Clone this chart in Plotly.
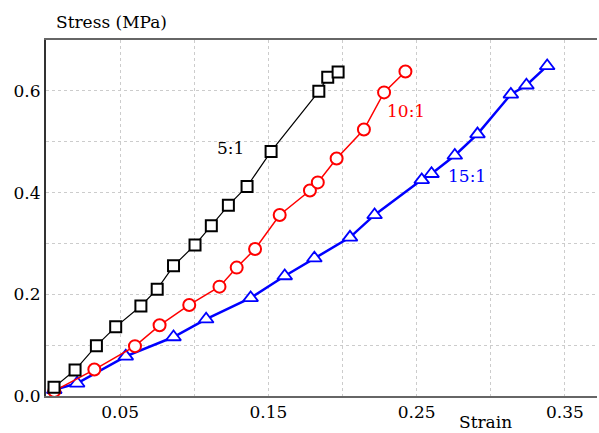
import plotly.graph_objects as go

# 5:1 series
x_5 = [0.0054, 0.0196, 0.034, 0.047, 0.064, 0.075, 0.086, 0.1005, 0.1115, 0.123, 0.1356, 0.1518, 0.184, 0.190, 0.197]
y_5 = [0.017, 0.051, 0.099, 0.136, 0.177, 0.210, 0.256, 0.297, 0.335, 0.375, 0.412, 0.481, 0.599, 0.627, 0.637]
# 10:1 series
x_10 = [0.0056, 0.0326, 0.060, 0.0766, 0.0966, 0.117, 0.1286, 0.141, 0.1576, 0.178, 0.1833, 0.196, 0.2144, 0.228, 0.2424]
y_10 = [0.010, 0.052, 0.098, 0.139, 0.179, 0.215, 0.2525, 0.289, 0.356, 0.404, 0.420, 0.467, 0.524, 0.597, 0.638]
# 15:1 series
x_15 = [0.0056, 0.021, 0.0538, 0.086, 0.108, 0.138, 0.161, 0.181, 0.205, 0.2216, 0.2534, 0.260, 0.2757, 0.291, 0.3135, 0.324, 0.338]
y_15 = [0.012, 0.025, 0.078, 0.116, 0.151, 0.193, 0.236, 0.271, 0.312, 0.356, 0.425, 0.437, 0.473, 0.515, 0.593, 0.611, 0.649]

x_ticks = [0.05, 0.15, 0.25, 0.35]
x_ticklabels = ["0.05", "0.15", "0.25", "0.35"]
y_ticks = [0.0, 0.2, 0.4, 0.6]
y_ticklabels = ["0.0", "0.2", "0.4", "0.6"]

FONT = "DejaVu Serif"

fig = go.Figure()
fig.add_trace(go.Scatter(x=x_15, y=y_15, mode="lines+markers",
                         line=dict(color="#0000ff", width=2.5),
                         marker=dict(symbol="triangle-up", size=13, color="white",
                                     line=dict(color="#0000ff", width=1.8))))
fig.add_trace(go.Scatter(x=x_10, y=y_10, mode="lines+markers",
                         line=dict(color="#ff0000", width=1.5),
                         marker=dict(symbol="circle", size=12, color="white",
                                     line=dict(color="#ff0000", width=2))))
fig.add_trace(go.Scatter(x=x_5, y=y_5, mode="lines+markers",
                         line=dict(color="#000000", width=1.2),
                         marker=dict(symbol="square", size=11, color="white",
                                     line=dict(color="#000000", width=2))))

fig.add_annotation(x=0.1245, y=0.487, text="5:1", showarrow=False,
                   font=dict(family=FONT, size=17, color="black"))
fig.add_annotation(x=0.2425, y=0.561, text="10:1", showarrow=False,
                   font=dict(family=FONT, size=17, color="#ff0000"))
fig.add_annotation(x=0.284, y=0.433, text="15:1", showarrow=False, bgcolor="white",
                   font=dict(family=FONT, size=17, color="#0000ff"))

fig.add_annotation(xref="paper", yref="paper", x=0.0145, y=1.05, xanchor="left", yanchor="middle",
                   text="Stress (MPa)", showarrow=False,
                   font=dict(family=FONT, size=17, color="black"))
fig.add_annotation(xref="paper", yref="paper", x=0.797, y=-0.072, xanchor="center", yanchor="middle",
                   text="Strain", showarrow=False,
                   font=dict(family=FONT, size=17, color="black"))

grid = dict(showgrid=True, gridcolor="#cccccc", gridwidth=1, griddash="dot")
fig.update_xaxes(range=[0, 0.3716], tickmode="array", tickvals=x_ticks, ticktext=x_ticklabels,
                 showline=True, linecolor="#666666", linewidth=2, mirror=True,
                 ticks="", zeroline=False,
                 tickfont=dict(family=FONT, size=17, color="black"),
                 minor=dict(tick0=0, dtick=0.05, **grid), **grid)
fig.update_yaxes(range=[0, 0.70], tickmode="array", tickvals=y_ticks, ticktext=y_ticklabels,
                 showline=True, linecolor="#333333", linewidth=2, mirror=False,
                 ticks="", zeroline=False, ticklen=0,
                 tickfont=dict(family=FONT, size=17, color="black"),
                 minor=dict(tick0=0, dtick=0.1, **grid), **grid)

fig.update_layout(width=599, height=433, margin=dict(l=46, r=2, t=40, b=37),
                  plot_bgcolor="white", paper_bgcolor="white", showlegend=False)
fig.write_html("out.html")
